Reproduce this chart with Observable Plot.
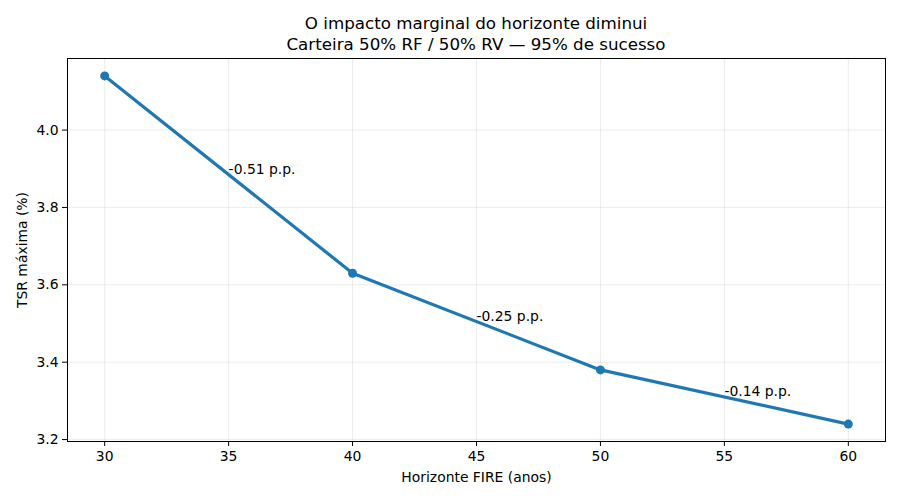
<!DOCTYPE html>
<html>
<head>
<meta charset="utf-8">
<script src="https://cdn.jsdelivr.net/npm/d3@7"></script>
<script src="https://cdn.jsdelivr.net/npm/@observablehq/plot@0.6"></script>
<style>
  body { margin: 0; background: #fff; font-family: "DejaVu Sans", sans-serif; }
  #title { height: 56px; box-sizing: border-box; padding-top: 13px; padding-left: 52px; text-align: center; font-size: 16.7px; line-height: 20.5px; color: #000; }
</style>
</head>
<body>
<div id="title">O impacto marginal do horizonte diminui<br>Carteira 50% RF / 50% RV — 95% de sucesso</div>
<div id="chart"></div>
<script>
const horizons = [30, 40, 50, 60];
const tsr = [4.14, 3.63, 3.38, 3.24];
const xTicks = [30, 35, 40, 45, 50, 55, 60];
const yTicks = [3.2, 3.4, 3.6, 3.8, 4.0];
const deltaLabels = ["-0.51 p.p.", "-0.25 p.p.", "-0.14 p.p."];

const points = horizons.map((h, i) => ({h, v: tsr[i]}));
const deltas = deltaLabels.map((t, i) => ({
  h: (horizons[i] + horizons[i + 1]) / 2,
  v: (tsr[i] + tsr[i + 1]) / 2,
  t
}));

const chart = Plot.plot({
  width: 900,
  height: 444,
  marginTop: 2,
  marginBottom: 59,
  marginLeft: 67,
  marginRight: 15,
  style: { fontFamily: "DejaVu Sans, sans-serif", fontSize: "13.9px", color: "#000", background: "#fff" },
  x: { domain: [28.5, 61.5] },
  y: { domain: [3.195, 4.185] },
  marks: [
    Plot.gridX(xTicks, { stroke: "#b0b0b0", strokeOpacity: 0.3, strokeWidth: 0.8 }),
    Plot.gridY(yTicks, { stroke: "#b0b0b0", strokeOpacity: 0.3, strokeWidth: 0.8 }),
    Plot.axisX({ ticks: xTicks, tickSize: 5, tickPadding: 5, tickFormat: d3.format("d"),
      label: "Horizonte FIRE (anos)", labelAnchor: "center", labelArrow: "none", labelOffset: 40 }),
    Plot.axisY({ ticks: yTicks, tickSize: 5, tickPadding: 4, tickFormat: d3.format(".1f"),
      label: "TSR máxima (%)", labelAnchor: "center", labelArrow: "none", labelOffset: 50 }),
    Plot.line(points, { x: "h", y: "v", stroke: "#1f77b4", strokeWidth: 3.2 }),
    Plot.dot(points, { x: "h", y: "v", fill: "#1f77b4", r: 4.5 }),
    Plot.text(deltas, { x: "h", y: "v", text: "t", textAnchor: "start", lineAnchor: "bottom", dy: -1, fill: "#000", fontSize: 13.9 }),
    Plot.frame({ stroke: "#000", strokeWidth: 1 })
  ]
});
document.getElementById("chart").appendChild(chart);
</script>
</body>
</html>
